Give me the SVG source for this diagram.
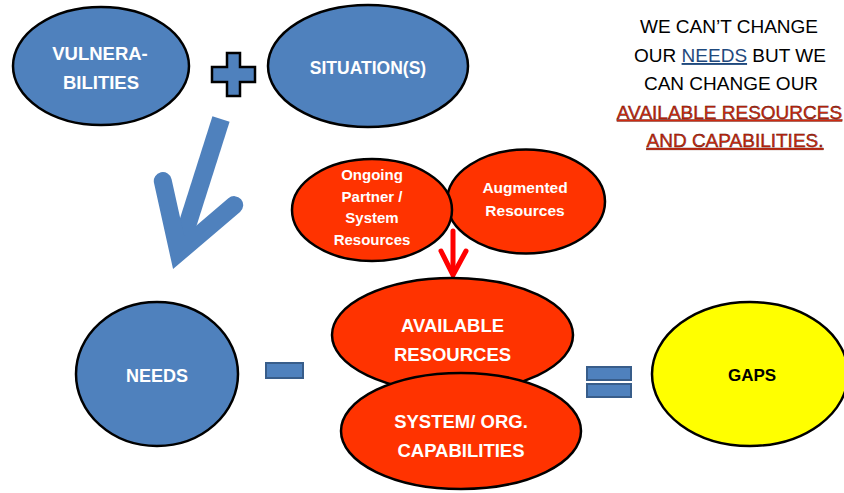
<svg xmlns="http://www.w3.org/2000/svg" width="844" height="493" viewBox="0 0 844 493">
<defs>
<style>
.blue{fill:#4F81BD;stroke:#000;stroke-width:2.5}
.red{fill:#FF3300;stroke:#000;stroke-width:2.5}
.yel{fill:#FFFF00;stroke:#000;stroke-width:2.5}
.op{fill:#4F81BD;stroke:#385D8A;stroke-width:2}
.lbl{font-family:"Liberation Sans",Arial,sans-serif;font-weight:bold;fill:#fff;text-anchor:middle}
.dark{fill:#000}
.note{font-family:"Liberation Sans",Arial,sans-serif;font-size:19px;fill:#000;text-anchor:middle}
.warn{fill:#D02A10;stroke:#4a0c00;stroke-width:0.4px;text-decoration:underline}
.ul{text-decoration:underline}
</style>
</defs>
<rect width="844" height="493" fill="#fff"/>

<g id="connectors">
  <g id="blue-arrow" fill="none" stroke="#4F81BD" stroke-width="18">
    <path d="M221,119 L178.6,252.5" stroke-linecap="butt"/>
    <path d="M162.8,181.1 L178.6,252.5 L234.2,205.1" stroke-linecap="round" stroke-linejoin="miter" stroke-miterlimit="10"/>
  </g>
  <g id="red-arrow" fill="none" stroke="#FF0000" stroke-width="5" stroke-linecap="round">
    <path d="M453,231 L453,273"/>
    <path d="M441,251 L453,275 L466,251" stroke-linejoin="miter"/>
  </g>
</g>

<g id="vulnerabilities">
  <ellipse class="blue" cx="101" cy="66" rx="88" ry="59"/>
  <text class="lbl" font-size="18.5" x="100" y="60">VULNERA-</text>
  <text class="lbl" font-size="18.5" x="101" y="89">BILITIES</text>
</g>

<g id="plus">
  <polygon class="blue" points="227,53 240,53 240,67 255,67 255,82 240,82 240,96 227,96 227,82 212,82 212,67 227,67"/>
</g>

<g id="situations">
  <ellipse class="blue" cx="368" cy="66" rx="100" ry="61"/>
  <text class="lbl" font-size="17.5" x="368" y="74">SITUATION(S)</text>
</g>

<g id="note">
  <text class="note" x="729" y="33">WE CAN’T CHANGE</text>
  <text class="note" x="730" y="62">OUR <tspan class="ul" style="fill:#1F497D">NEEDS</tspan> BUT WE</text>
  <text class="note" x="731" y="90">CAN CHANGE OUR</text>
  <text class="note warn" x="729.5" y="118.5">AVAILABLE RESOURCES</text>
  <text class="note warn" x="735" y="147">AND CAPABILITIES.</text>
</g>

<g id="augmented">
  <ellipse class="red" cx="526" cy="201.5" rx="79" ry="52"/>
  <text class="lbl" font-size="15.5" x="525" y="193">Augmented</text>
  <text class="lbl" font-size="15.5" x="525" y="216">Resources</text>
</g>

<g id="ongoing">
  <ellipse class="red" cx="372" cy="210" rx="80" ry="51"/>
  <text class="lbl" font-size="15" x="372" y="180">Ongoing</text>
  <text class="lbl" font-size="15" x="372" y="201.5">Partner /</text>
  <text class="lbl" font-size="15" x="372" y="223">System</text>
  <text class="lbl" font-size="15" x="372" y="244.5">Resources</text>
</g>

<g id="needs">
  <ellipse class="blue" cx="157" cy="374" rx="81" ry="72"/>
  <text class="lbl" font-size="18" x="157" y="382">NEEDS</text>
</g>

<g id="minus">
  <rect class="op" x="266" y="363" width="37" height="15"/>
</g>

<g id="available-resources">
  <ellipse class="red" cx="452.5" cy="335" rx="120.5" ry="57"/>
  <text class="lbl" font-size="18.5" x="452.5" y="332">AVAILABLE</text>
  <text class="lbl" font-size="18.5" x="452.5" y="361">RESOURCES</text>
</g>

<g id="system-capabilities">
  <ellipse class="red" cx="461" cy="431" rx="120" ry="58"/>
  <text class="lbl" font-size="18.5" x="461" y="428">SYSTEM/ ORG.</text>
  <text class="lbl" font-size="18.5" x="461" y="457">CAPABILITIES</text>
</g>

<g id="equals">
  <rect class="op" x="587" y="367" width="44" height="13"/>
  <rect class="op" x="587" y="384" width="44" height="13"/>
</g>

<g id="gaps">
  <ellipse class="yel" cx="750" cy="374" rx="98" ry="72"/>
  <text class="lbl dark" font-size="17" x="752" y="381">GAPS</text>
</g>
</svg>
